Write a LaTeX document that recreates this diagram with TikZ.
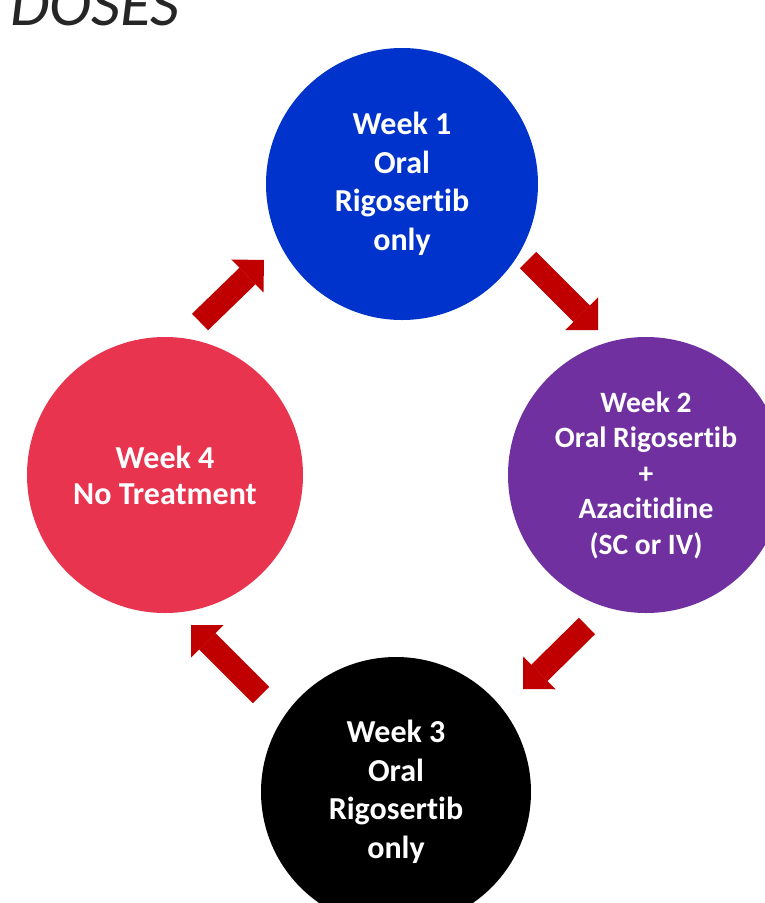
\documentclass[tikz,border=0pt]{standalone}
\usepackage{fontspec}
\setmainfont{Carlito}[Ligatures=NoCommon]
\usepackage{tikz}
\usetikzlibrary{arrows.meta}
\definecolor{ink}{HTML}{262626}
\definecolor{wkblue}{HTML}{0033CC}
\definecolor{wkpurple}{HTML}{7030A0}
\definecolor{wkred}{HTML}{E8344E}
\definecolor{arrowred}{HTML}{C00000}
\tikzset{
  disc/.style={circle,inner sep=0pt,text=white,align=center},
  bigtext/.style={font=\bfseries\fontsize{32}{38.5}\selectfont},
  smalltext/.style={font=\bfseries\fontsize{29.5}{35.5}\selectfont},
  cyclearrow/.style={-{Triangle[length=23pt,width=46pt,line width=0pt]},line width=23pt,color=arrowred},
}

\begin{document}
\begin{tikzpicture}[x=1pt,y=-1pt]
  \useasboundingbox (0,0) rectangle (765,903);
  \clip (0,0) rectangle (765,903);
  \node[anchor=base west,inner sep=0pt,text=ink,font=\itshape\fontsize{64}{64}\selectfont] (title) at (10,25) {DOSES};

  \node[disc,fill=wkblue,minimum size=272pt,bigtext] (wk1) at (402,184)
    {Week 1\\Oral\\Rigosertib\\only};
  \node[disc,fill=wkpurple,minimum size=276pt,smalltext] (wk2) at (646,475)
    {Week 2\\Oral Rigosertib\\+\\Azacitidine\\(SC or IV)};
  \node[disc,fill=black,minimum size=270pt,bigtext] (wk3) at (396,792)
    {Week 3\\Oral\\Rigosertib\\only};
  \node[disc,fill=wkred,minimum size=276pt,bigtext,font=\bfseries\fontsize{32}{36}\selectfont] (wk4) at (165,475)
    {Week 4\\No Treatment};

  \coordinate (a1s) at (200,322); \coordinate (a1e) at (264,260);
  \coordinate (a2s) at (528,260); \coordinate (a2e) at (598,330);
  \coordinate (a3s) at (587,626); \coordinate (a3e) at (523,689);
  \coordinate (a4s) at (261,695); \coordinate (a4e) at (191,625);
  \draw[cyclearrow] (a1s) -- (a1e);
  \draw[cyclearrow] (a2s) -- (a2e);
  \draw[cyclearrow] (a3s) -- (a3e);
  \draw[cyclearrow] (a4s) -- (a4e);
\end{tikzpicture}
\end{document}
